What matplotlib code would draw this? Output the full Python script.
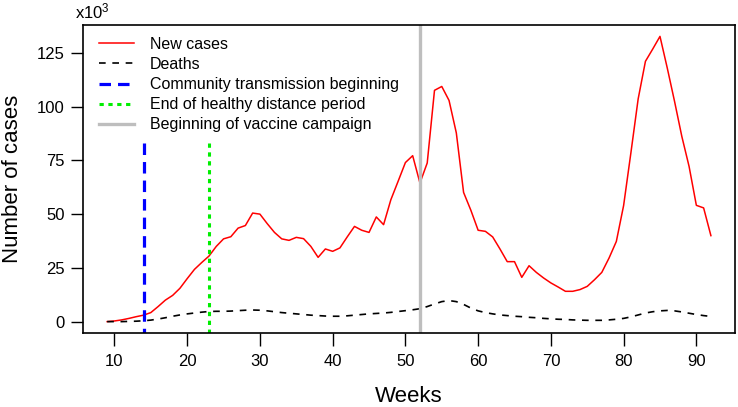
import matplotlib
matplotlib.use("Agg")
import matplotlib.pyplot as plt

plt.rcParams['font.family'] = ['Liberation Sans', 'DejaVu Sans']
plt.rcParams['mathtext.fontset'] = 'custom'
plt.rcParams['mathtext.rm'] = 'Liberation Sans'
plt.rcParams['mathtext.it'] = 'Liberation Sans'

# weekly data (thousands)
weeks = list(range(9, 93))
new_cases = [0, 0.3, 0.8, 1.5, 2.3, 3.0, 4.2, 7.0, 10.0, 12.2,
             15.5, 20.0, 24.3, 27.5, 30.5, 35.0, 38.5, 39.5, 43.5, 44.7,
             50.5, 50.0, 45.6, 41.5, 38.5, 37.8, 39.2, 38.6, 35.0, 29.9,
             33.8, 32.7, 34.3, 39.4, 44.3, 42.5, 41.5, 48.7, 45.1, 56.7,
             65.3, 74.0, 77.2, 64.5, 73.8, 107.6, 109.4, 102.9, 87.8, 60.1,
             51.8, 42.5, 42.0, 39.4, 33.8, 27.9, 27.9, 20.6, 26.0, 22.9,
             20.3, 18.0, 16.1, 14.1, 14.1, 14.9, 16.4, 19.5, 22.9, 29.6,
             37.3, 54.0, 78.5, 103.6, 121.1, 126.8, 132.7, 118.0, 102.5, 86.2,
             72.2, 54.1, 52.9, 40.0]
deaths = [0, 0, 0, 0.1, 0.2, 0.4, 0.7, 1.2, 1.8, 2.5,
          3.1, 3.6, 4.0, 4.4, 4.7, 4.8, 4.8, 4.9, 5.1, 5.3,
          5.4, 5.3, 5.0, 4.6, 4.2, 3.9, 3.6, 3.3, 3.0, 2.8,
          2.6, 2.5, 2.5, 2.7, 3.0, 3.3, 3.6, 3.8, 4.0, 4.3,
          4.7, 5.1, 5.5, 6.0, 7.0, 8.2, 9.3, 9.8, 9.3, 8.0,
          6.3, 5.0, 4.2, 3.6, 3.1, 2.8, 2.5, 2.3, 2.0, 1.8,
          1.5, 1.3, 1.1, 1.0, 0.8, 0.7, 0.6, 0.6, 0.6, 0.8,
          1.1, 1.5, 2.2, 3.1, 4.0, 4.6, 5.0, 5.2, 5.0, 4.5,
          3.9, 3.3, 2.8, 2.4]

community_week = 14
healthy_end_week = 23
vaccine_week = 52
marker_top = 83

fig = plt.figure(figsize=(7.38, 4.07), dpi=100)
ax = fig.add_axes([0.1125, 0.1818, 0.8835, 0.7568])

ax.plot(weeks, new_cases, color='red', lw=1.1, label='New cases')
ax.plot(weeks, deaths, color='black', lw=1.2, ls=(0, (4, 4)), label='Deaths')
# drawn top-down so the dash pattern starts at the top
ax.plot([community_week, community_week], [marker_top, -10], color='blue', lw=2.3,
        ls=(0, (3.6, 2.2)), label='Community transmission beginning')
ax.plot([healthy_end_week, healthy_end_week], [marker_top, -10], color='#00ee00', lw=2.2,
        ls=(0, (1.4, 1.5)), label='End of healthy distance period')
ax.axvline(vaccine_week, color='#bebebe', lw=2.4, label='Beginning of vaccine campaign')

ax.set_xlim(5.68, 95.32)
ax.set_ylim(-5.3, 138)
ax.set_xticks(range(10, 91, 10))
ax.set_yticks(range(0, 126, 25))
ax.tick_params(direction='out', length=9, width=1, labelsize=12, pad=4)
ax.tick_params(axis='x', pad=6)
for s in ax.spines.values():
    s.set_linewidth(1.2)

ax.set_xlabel('Weeks', fontsize=16, labelpad=12)
ax.set_ylabel('Number of cases', fontsize=16, labelpad=10)
ax.text(-0.013, 1.012, r'x10$^3$', transform=ax.transAxes, fontsize=12,
        ha='left', va='bottom')

ax.legend(loc='upper left', bbox_to_anchor=(0.006, 1.0), frameon=False,
          fontsize=11.5, handlelength=2.2, handletextpad=1.0, labelspacing=0.32,
          borderaxespad=0.2, borderpad=0.55)

fig.savefig('out.png', dpi=100)
